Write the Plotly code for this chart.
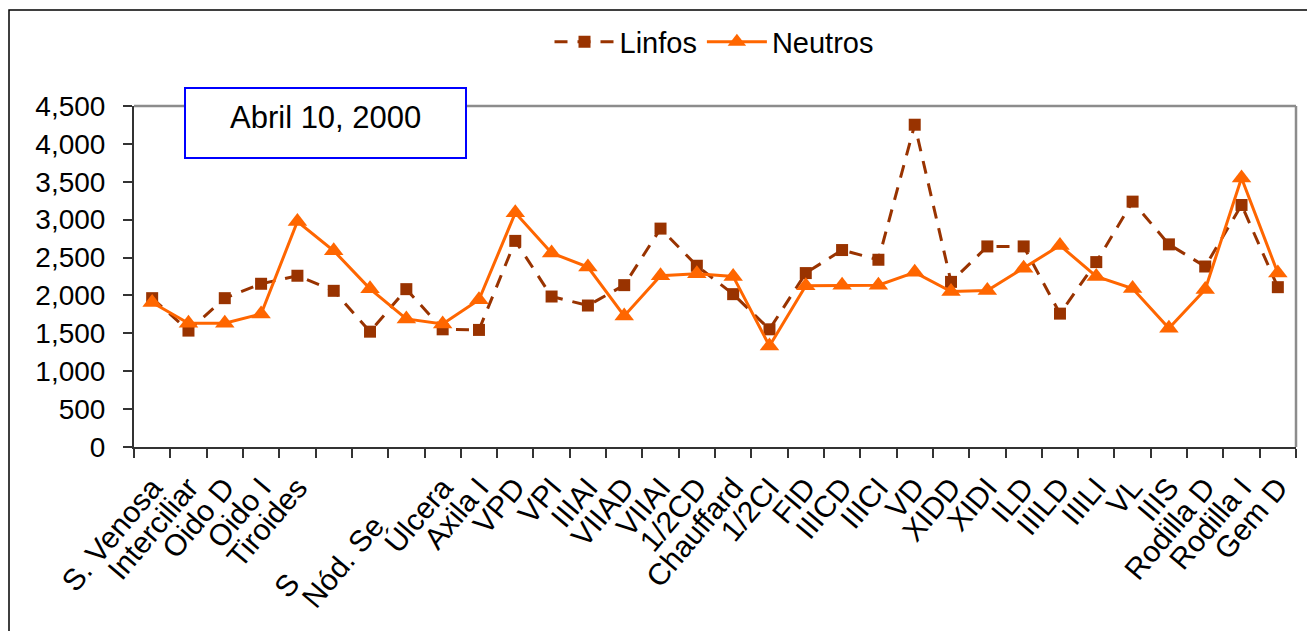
import plotly.graph_objects as go

# Categories (body sites) and the two cell-count series
sites = ["S. Venosa", "Interciliar", "Oido D", "Oido I", "Tiroides", "", "S",
         "Nód. Se", "Úlcera", "Axila I", "VPD", "VPI", "IIIAI", "VIIAD", "VIIAI",
         "1/2CD", "Chauffard", "1/2CI", "FID", "IIICD", "IIICI", "VD", "XIDD",
         "XIDI", "ILD", "IIILD", "IIILI", "VL", "IIIS", "Rodilla D", "Rodilla I",
         "Gem D"]

linfos = [1964, 1536, 1964, 2154, 2260, 2061, 1522, 2083, 1553, 1545, 2720,
          1986, 1867, 2136, 2882, 2392, 2017, 1553, 2295, 2599, 2471, 4253,
          2179, 2647, 2647, 1760, 2440, 3238, 2674, 2382, 3194, 2109]

neutros = [1906, 1633, 1633, 1756, 2975, 2590, 2087, 1690, 1624, 1942, 3090,
           2560, 2374, 1730, 2260, 2286, 2251, 1333, 2127, 2136, 2136, 2305,
           2051, 2065, 2360, 2660, 2250, 2092, 1566, 2078, 3550, 2295]

y_ticks = [0, 500, 1000, 1500, 2000, 2500, 3000, 3500, 4000, 4500]
title_text = "Abril 10, 2000"

FONT = "Liberation Sans, Arial, sans-serif"
BROWN = "#993300"
ORANGE = "#FF6600"

# figure geometry (pixels)
W, H = 1307, 631
L, R, T, B = 134, 11, 106, 184
PW, PH = W - L - R, H - T - B


def px_x(p):
    return (p - L) / PW


def px_y(p):
    return (H - B - p) / PH


xs = list(range(len(sites)))
# labels 7 and 8 sit further down their diagonal
pad = {6: 15, 7: 6}
ticktext = [s + "\u00a0" * pad.get(i, 0) for i, s in enumerate(sites)]

fig = go.Figure()
fig.add_trace(go.Scatter(
    x=xs, y=linfos, name="Linfos", mode="lines+markers",
    line=dict(color=BROWN, width=3, dash="13px,10px"),
    marker=dict(symbol="square", size=12, color=BROWN),
))
fig.add_trace(go.Scatter(
    x=xs, y=neutros, name="Neutros", mode="lines+markers",
    line=dict(color=ORANGE, width=3),
    marker=dict(symbol="triangle-up", size=17, color=ORANGE),
))

shapes = [
    # outer chart frame
    dict(type="rect", xref="paper", yref="paper",
         x0=px_x(9), x1=px_x(1330), y0=px_y(660), y1=px_y(10),
         line=dict(color="black", width=1.5), fillcolor="rgba(0,0,0,0)"),
    # plot-area border (top and right)
    dict(type="line", xref="paper", yref="paper", x0=0, x1=1, y0=1, y1=1,
         line=dict(color="#8c8c8c", width=2.5)),
    dict(type="line", xref="paper", yref="paper", x0=1, x1=1, y0=0, y1=1,
         line=dict(color="#8c8c8c", width=2.5)),
    # date box
    dict(type="rect", xref="paper", yref="paper",
         x0=px_x(185), x1=px_x(466), y0=px_y(158), y1=px_y(88),
         line=dict(color="#0000FF", width=2), fillcolor="white"),
]

fig.update_layout(
    width=W, height=H,
    margin=dict(l=L, r=R, t=T, b=B, autoexpand=False),
    paper_bgcolor="white", plot_bgcolor="white",
    font=dict(family=FONT, color="black"),
    shapes=shapes,
    annotations=[dict(
        text=title_text, xref="paper", yref="paper",
        x=px_x(325), y=px_y(118), xanchor="center", yanchor="middle",
        showarrow=False, font=dict(size=31, family=FONT, color="black"),
    )],
    legend=dict(
        orientation="h", xref="paper", yref="paper",
        x=px_x(714), y=px_y(42), xanchor="center", yanchor="middle",
        font=dict(size=29, family=FONT), bgcolor="rgba(0,0,0,0)",
        itemwidth=60, tracegroupgap=0,
    ),
    showlegend=True,
)

fig.update_xaxes(
    range=[-0.5, len(sites) - 0.5], tickmode="array", tickvals=xs,
    ticktext=ticktext, tickangle=-50, tickfont=dict(size=30, family=FONT),
    ticks="outside", ticklen=9, tickcolor="rgba(0,0,0,0)",
    showline=True, linecolor="#333333", linewidth=2,
    showgrid=False, zeroline=False, automargin=False,
    minor=dict(tickmode="array", tickvals=[i - 0.5 for i in range(len(sites) + 1)],
               ticks="outside", ticklen=9, tickcolor="#333333", tickwidth=1.5,
               showgrid=False),
)
fig.update_yaxes(
    range=[0, 4500], tickmode="array", tickvals=y_ticks,
    ticktext=[f"{v:,}" for v in y_ticks], tickfont=dict(size=28, family=FONT),
    ticks="outside", ticklen=9, tickcolor="#333333", tickwidth=1.5,
    ticklabelstandoff=12,
    showline=True, linecolor="#333333", linewidth=2,
    showgrid=False, zeroline=False, automargin=False,
)

fig.write_html("out.html")
